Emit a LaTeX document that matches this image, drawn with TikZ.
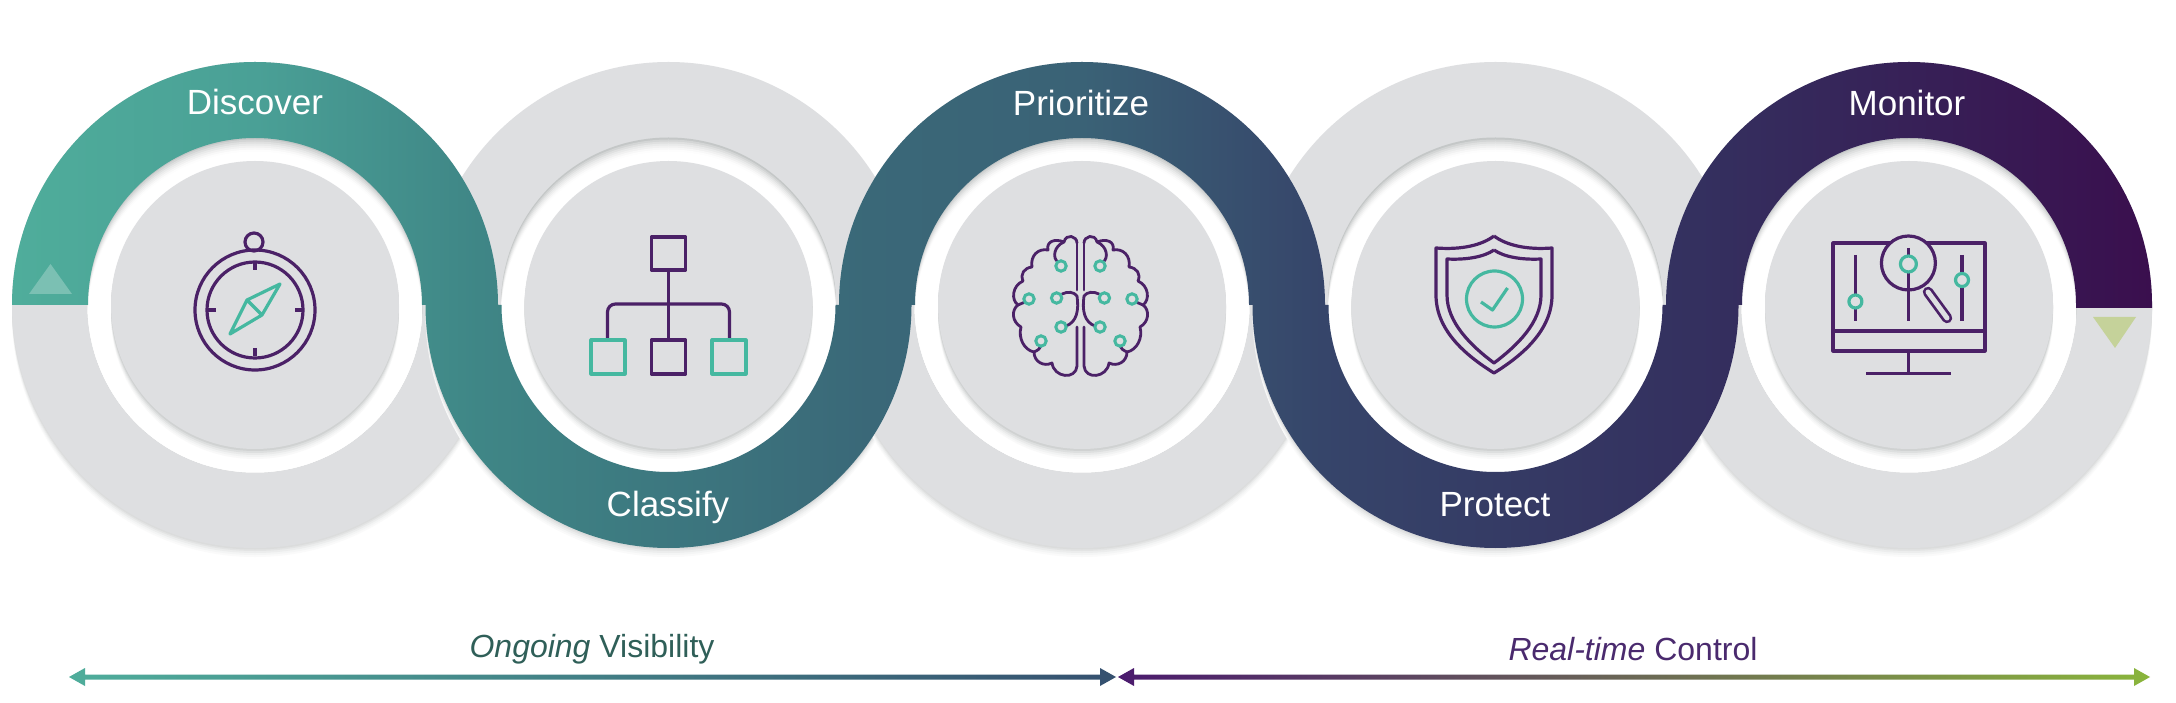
\documentclass[tikz,border=0pt]{standalone}
\usepackage{fontspec}
\usetikzlibrary{calc}
\setmainfont{Liberation Sans}
\definecolor{ringgray}{HTML}{DEDFE1}
\definecolor{shadowgray}{HTML}{C4C7C7}
\definecolor{iconpurple}{HTML}{4B2167}
\definecolor{iconteal}{HTML}{45B8A0}
\definecolor{rA}{HTML}{4FAD9B}
\definecolor{rB}{HTML}{4AA096}
\definecolor{rC}{HTML}{3F8686}
\definecolor{rD}{HTML}{3A6878}
\definecolor{rE}{HTML}{3A6276}
\definecolor{rF}{HTML}{36456A}
\definecolor{rG}{HTML}{34305F}
\definecolor{rH}{HTML}{3A0F4E}
\definecolor{triup}{HTML}{7BC0B3}
\definecolor{tridown}{HTML}{C5D29A}
\definecolor{spangreen}{HTML}{2F5F58}
\definecolor{spanpurple}{HTML}{4A2A6E}
\definecolor{arrowblue}{HTML}{35506F}
\definecolor{arrowpurple}{HTML}{4B1A6E}
\definecolor{arrowmid}{HTML}{62584A}
\definecolor{arrowgreen}{HTML}{8AB53C}
\pgfdeclarehorizontalshading{ribbonshade}{100bp}{color(0bp)=(rA); color(25bp)=(rA); color(30.7bp)=(rB); color(35.9bp)=(rC); color(45bp)=(rD); color(50bp)=(rE); color(55.6bp)=(rF); color(64.4bp)=(rG); color(75bp)=(rH); color(100bp)=(rH)}
\newcommand{\ringunit}[1]{%
  \foreach \o/\c in {9/8,7/18,5/32,3/48,1.5/62}{\fill[shadowgray!\c!white] (#1,397-\o) circle[radius=243pt];}
  \fill[ringgray] (#1,397) circle[radius=243pt];
  \begin{scope}
    \clip (#1,397) circle[radius=167.5pt];
    \fill[shadowgray] (#1,397) circle[radius=169pt];
    \foreach \o/\c in {2/75,4/55,6/38,8/24,10/12,12/4,14/0}{\fill[shadowgray!\c!white] (#1,397-\o) circle[radius=167.5pt];}
  \end{scope}
  \foreach \o/\c in {10/10,8/22,6/38,4/58,2/80}{\fill[shadowgray!\c!white] (#1,397-\o) circle[radius=144pt];}
  \fill[ringgray] (#1,397) circle[radius=144pt];
}
\newcommand{\brainhalf}{%
  \draw[brainline] (1077,243) .. controls (1077,236) and (1066,233) .. (1064,242)
    .. controls (1054,238) and (1046,242) .. (1048,250)
    .. controls (1038,248) and (1030,256) .. (1032,267)
    .. controls (1024,268) and (1020,274) .. (1023,281)
    .. controls (1012,286) and (1011,300) .. (1018,305)
    .. controls (1011,310) and (1012,322) .. (1021,327)
    .. controls (1018,338) and (1024,350) .. (1034,352)
    .. controls (1034,362) and (1044,367) .. (1052,363)
    .. controls (1054,378) and (1076,380) .. (1077,366) -- (1077,327);
  \draw[brainline] (1077,243) -- (1077,290);
  \draw[brainline] (1064,242) .. controls (1054,246) and (1052,258) .. (1058,262);
  \draw[brainline] (1018,305) -- (1025,302);
  \draw[brainline] (1062,294) .. controls (1068,291) and (1074,292) .. (1077,296)
     .. controls (1079,310) and (1077,322) .. (1066,326);
  \draw[brainline] (1034,352) .. controls (1038,350) and (1040,349) .. (1041,346);
  \foreach \p in {(1061,266),(1029,299),(1056.6,298),(1061,327),(1041,341)}{\draw[dotline] \p circle[radius=5.2pt];}
}
\tikzset{
  x=1pt,y=1pt,
  steplabel/.style={text=white,font=\fontsize{35}{35}\selectfont,inner sep=0pt,anchor=center},
  spanlabel/.style={font=\fontsize{32}{32}\selectfont,inner sep=0pt,anchor=center},
  iconline/.style={draw=iconpurple,line width=3.2pt,line join=round},
  accentline/.style={draw=iconteal,line width=3.2pt,line join=round},
  brainline/.style={draw=iconpurple,line width=2.8pt,line join=round,line cap=round},
  dotline/.style={draw=iconteal,line width=3pt},
  pixels/.style={shift={(0,702)},yscale=-1}
}
\begin{document}
\begin{tikzpicture}
\useasboundingbox (0,0) rectangle (2176,702);
\fill[white] (0,0) rectangle (2176,702);
\ringunit{255}
\ringunit{668.5}
\ringunit{1082}
\ringunit{1495.5}
\ringunit{1909}
% ribbon
\shade[shading=ribbonshade]
  (12,397) arc[start angle=180,end angle=0,radius=243pt]
  -- (501.5,397) arc[start angle=180,end angle=360,radius=167pt]
  -- (839,397) arc[start angle=180,end angle=0,radius=243pt]
  -- (1328.5,397) arc[start angle=180,end angle=360,radius=167pt]
  -- (1666,397) arc[start angle=180,end angle=0,radius=243pt]
  -- (2152,394) -- (2076,394) -- (2076,397) arc[start angle=0,end angle=180,radius=167pt]
  -- (1738.5,397) arc[start angle=360,end angle=180,radius=243pt]
  -- (1249,397) arc[start angle=0,end angle=180,radius=167pt]
  -- (911.5,397) arc[start angle=360,end angle=180,radius=243pt]
  -- (422,397) arc[start angle=0,end angle=180,radius=167pt] -- cycle;
% triangles
\fill[triup] (29,408) -- (72,408) -- (50.5,438) -- cycle;
\fill[tridown] (2093,385) -- (2136,385) -- (2115,354) -- cycle;
% labels
\node[steplabel] (discover) at (255,600) {Discover};
\node[steplabel] (classify) at (668,195) {Classify};
\node[steplabel] (prioritize) at (1081,599) {Prioritize};
\node[steplabel] (protect) at (1495,197) {Protect};
\node[steplabel] (monitor) at (1907,599) {Monitor};
% spans
\node[spanlabel,text=spangreen] (ongoing) at (592,53) {\textit{Ongoing} Visibility};
\node[spanlabel,text=spanpurple] (realtime) at (1633,53) {\textit{Real-time} Control};
\coordinate (la) at (69,25);
\coordinate (lb) at (1116,25);
\coordinate (ra) at (1118,25);
\coordinate (rb) at (2150,25);
\shade[left color=rA,right color=arrowblue] (la) -- ++(16,9) -- ++(0,-6.5) -- ($(lb)+(-16,2.5)$) -- ++(0,6.5) -- (lb) -- ++(-16,-9) -- ++(0,6.5) -- ($(la)+(16,-2.5)$) -- ++(0,-6.5) -- cycle;
\shade[left color=arrowpurple,middle color=arrowmid,right color=arrowgreen] (ra) -- ++(16,9) -- ++(0,-6.5) -- ($(rb)+(-16,2.5)$) -- ++(0,6.5) -- (rb) -- ++(-16,-9) -- ++(0,6.5) -- ($(ra)+(16,-2.5)$) -- ++(0,-6.5) -- cycle;
% icons, in pixel coordinates of the reference
\begin{scope}[pixels]
  % compass
  \draw[iconline] (255,310) circle[radius=60pt];
  \draw[iconline] (255,310) circle[radius=48pt];
  \draw[iconline] (254,242) circle[radius=9pt];
  \draw[iconline] (255,262) -- (255,270) (255,348) -- (255,356) (207,310) -- (216,310) (295,310) -- (304,310);
  \draw[accentline] (280,284) -- (247,300) -- (230,334) -- (262,315) -- cycle (247,300) -- (262,315);
  % hierarchy
  \draw[iconline] (651.5,237) rectangle (685.5,270);
  \draw[iconline] (668.5,270) -- (668.5,340);
  \draw[iconline,rounded corners=8pt] (607.5,340) -- (607.5,304) -- (729.5,304) -- (729.5,340);
  \draw[iconline] (651.5,340) rectangle (685.5,374);
  \draw[accentline] (591,340) rectangle (625,374);
  \draw[accentline] (712,340) rectangle (746,374);
  % brain
  \brainhalf
  \begin{scope}[shift={(2161,0)},xscale=-1]
    \brainhalf
  \end{scope}
  % shield
  \draw[iconline] (1494,236) .. controls (1482,245) and (1462,250) .. (1436,248) -- (1436,295) .. controls (1436,330) and (1465,355) .. (1494,373)
     .. controls (1523,355) and (1552,330) .. (1552,295) -- (1552,248) .. controls (1526,250) and (1506,245) .. (1494,236);
  \draw[iconline] (1494,250) .. controls (1484,257) and (1466,260) .. (1447,259) -- (1447,295) .. controls (1447,322) and (1470,345) .. (1494,363)
     .. controls (1518,345) and (1541,322) .. (1541,295) -- (1541,259) .. controls (1522,260) and (1504,257) .. (1494,250);
  \draw[accentline] (1494.5,299) circle[radius=28pt];
  \draw[accentline] (1481,302) -- (1492.5,310) -- (1507.5,288);
  % monitor
  \draw[iconline] (1833,243) rectangle (1985,351);
  \draw[iconline] (1833,331) -- (1985,331);
  \draw[iconline] (1908.4,351) -- (1908.4,373.5);
  \draw[iconline] (1866,373.5) -- (1950.5,373.5);
  \draw[iconline,fill=ringgray] (1908.4,263) circle[radius=27pt];
  \draw[iconline] (1855.4,255) -- (1855.4,321.5) (1908.4,248) -- (1908.4,321.5) (1962,255) -- (1962,321.5);
  \draw[accentline,fill=ringgray] (1855.4,301.5) circle[radius=6.5pt];
  \draw[accentline,fill=ringgray] (1908.4,264) circle[radius=8pt];
  \draw[accentline,fill=ringgray] (1962,280) circle[radius=6.5pt];
  \draw[iconpurple,line width=10.5pt,line cap=round] (1928,292) -- (1947,318);
  \draw[ringgray,line width=5pt,line cap=round] (1928,292) -- (1947,318);
\end{scope}
\end{tikzpicture}
\end{document}
